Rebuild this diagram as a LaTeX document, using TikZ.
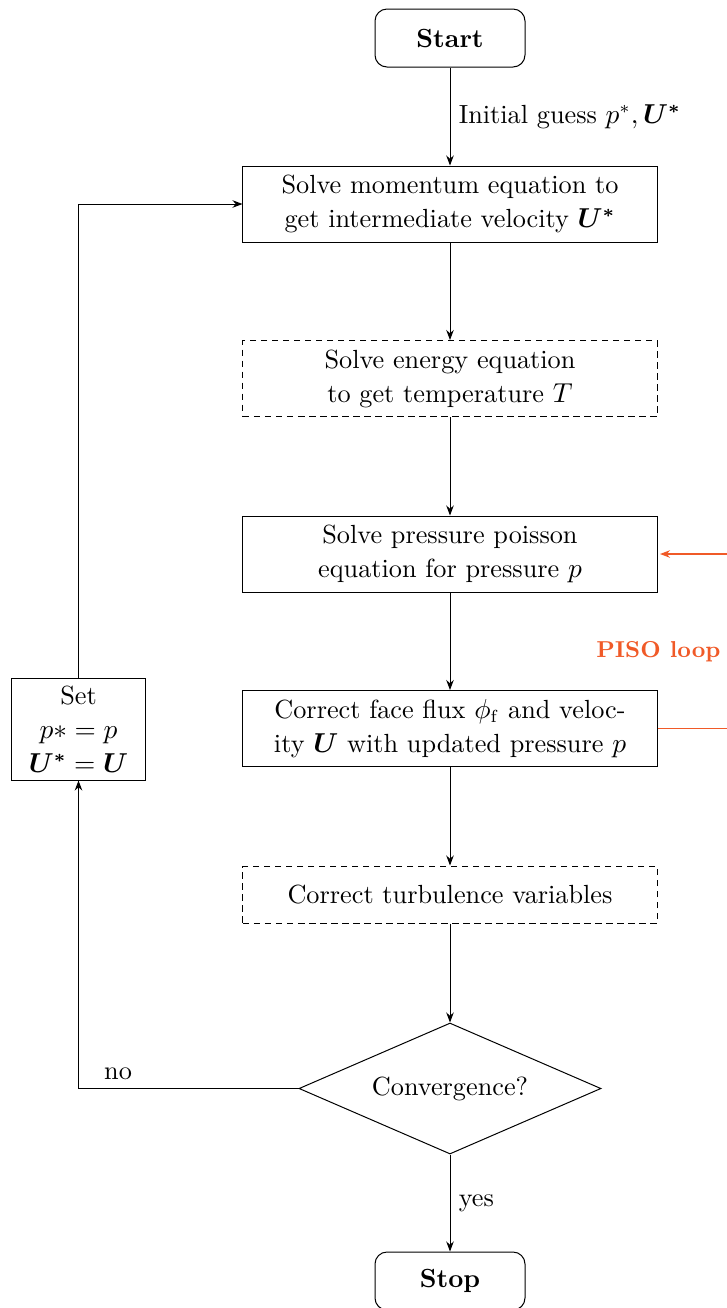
\documentclass[tikz,border=0pt]{standalone}
\usepackage{amsmath}
\usepackage{bm}
\usetikzlibrary{shapes.geometric,arrows.meta}
\definecolor{pisocol}{RGB}{240,90,40}
\begin{document}
\begin{tikzpicture}[x=0.4pt,y=-0.4pt,
  font=\fontsize{10.5}{13.6}\selectfont,
  proc/.style={draw,minimum width=165.6pt,minimum height=30.4pt,align=center,inner sep=0pt},
  opt/.style={proc,dash pattern=on 2.6pt off 1.8pt},
  term/.style={draw,rounded corners=4.8pt,minimum width=60pt,minimum height=23.2pt,
    font=\fontsize{10.5}{13.6}\selectfont\bfseries},
  dec/.style={draw,diamond,aspect=2.3,inner sep=0pt,minimum width=120.8pt,minimum height=52.4pt},
  flow/.style={-{Stealth[length=4pt,width=3pt]}},
  piso/.style={draw=pisocol,line width=0.6pt},
  ]
\clip (0,0) rectangle (727,1308);

% main column
\node[term] (start) at (450,38) {Start};
\node[proc] (mom) at (450,204) {Solve momentum equation to\\get intermediate velocity $\bm{U^*}$};
\node[opt] (energy) at (450,378.5) {Solve energy equation\\to get temperature $T$};
\node[proc] (press) at (450,554) {Solve pressure poisson\\equation for pressure $p$};
\node[proc] (corr) at (450,728.5) {Correct face flux $\phi_\mathrm{f}$ and veloc-\\ity $\bm{U}$ with updated pressure $p$};
\node[opt,minimum height=22.8pt] (turb) at (450,894.5) {Correct turbulence variables};
\node[dec] (conv) at (450,1088.5) {Convergence?};
\node[term] (stop) at (450,1281) {Stop};

% update box on the left
\node[draw,minimum width=53.2pt,minimum height=40.8pt,align=center,inner sep=0pt] (set) at (78.5,729)
  {Set\\$p{*} = p$\\$\bm{U^*} = \bm{U}$};

% PISO loop marker
\node[text=pisocol,inner sep=0pt,anchor=east,font=\fontsize{9.2}{12}\selectfont\bfseries] (pisolabel) at (721,652) {PISO loop};
\coordinate (pisoin) at (727,554);
\coordinate (pisoout) at (727,728.5);

% connectors
\draw[flow] (start) -- node[right] {Initial guess $p^*, \bm{U^*}$} (mom);
\draw[flow] (mom) -- (energy);
\draw[flow] (energy) -- (press);
\draw[flow] (press) -- (corr);
\draw[flow] (corr) -- (turb);
\draw[flow] (turb) -- (conv);
\draw[flow] (conv) -- node[right] {yes} (stop);
\draw[flow] (conv.west) -| node[pos=0.41,above] {no} (set.south);
\draw[flow] (set.north) |- (mom.west);
\draw[piso,flow,shorten >=1pt] (pisoin) -- (press.east);
\draw[piso] (corr.east) -- (pisoout);
\end{tikzpicture}
\end{document}
